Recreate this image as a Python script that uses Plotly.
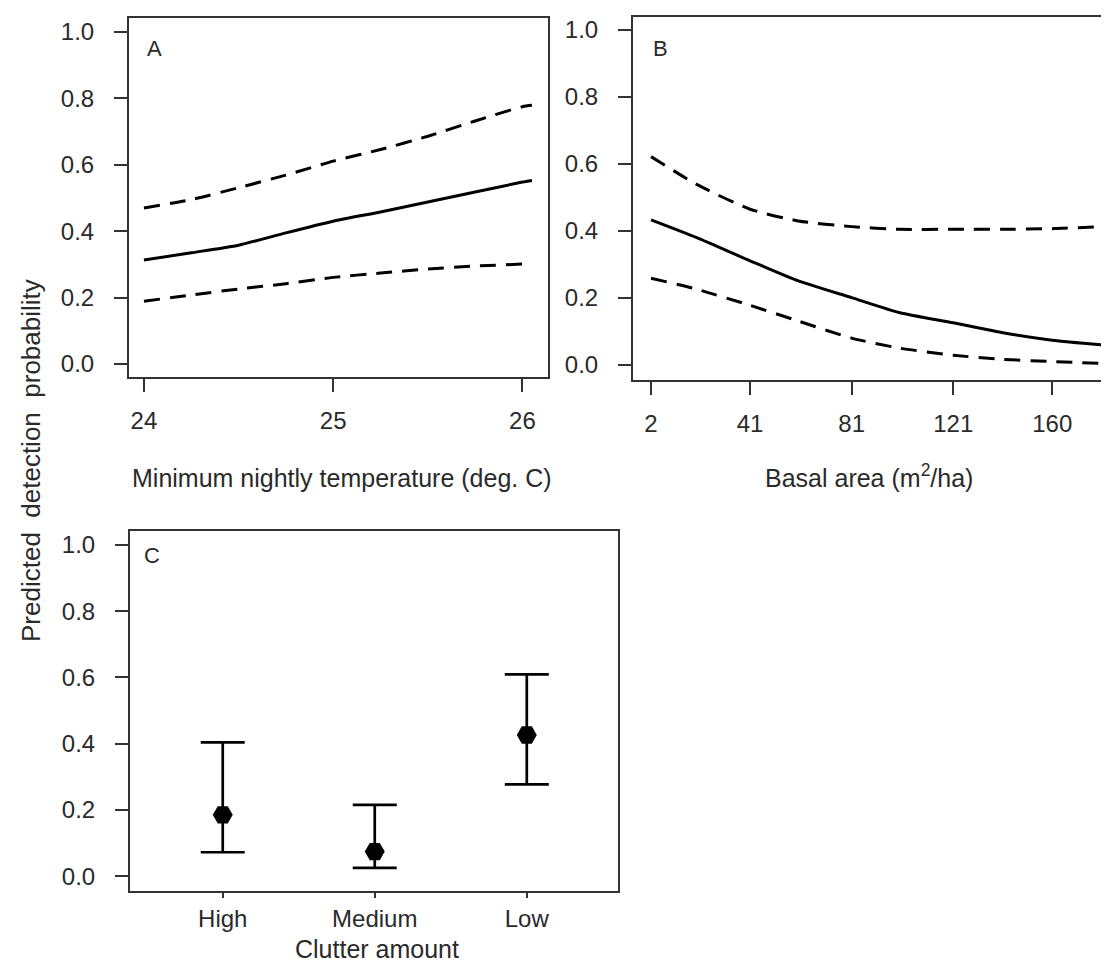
import plotly.graph_objects as go

# ---------------- data ----------------
temp_x = [24, 24.25, 24.5, 24.75, 25, 25.25, 25.5, 25.75, 26, 26.05]
temp_fit = [0.313, 0.335, 0.358, 0.395, 0.430, 0.458, 0.488, 0.518, 0.548, 0.553]
temp_upper = [0.470, 0.495, 0.531, 0.569, 0.611, 0.646, 0.686, 0.732, 0.775, 0.779]
temp_lower = [0.189, 0.208, 0.226, 0.242, 0.261, 0.274, 0.286, 0.295, 0.301, 0.302]

basal_x = [2, 20, 41, 60, 81, 100, 121, 140, 160, 181]
basal_fit = [0.433, 0.380, 0.311, 0.251, 0.201, 0.156, 0.126, 0.097, 0.074, 0.059]
basal_upper = [0.622, 0.539, 0.465, 0.430, 0.413, 0.405, 0.405, 0.405, 0.407, 0.413]
basal_lower = [0.259, 0.226, 0.178, 0.131, 0.080, 0.050, 0.029, 0.017, 0.010, 0.004]

clutter_cats = ["High", "Medium", "Low"]
clutter_est = [0.185, 0.074, 0.426]
clutter_upper = [0.404, 0.215, 0.609]
clutter_lower = [0.072, 0.025, 0.277]

temp_ticks = [24, 25, 26]
basal_tickvals = [2, 41, 81, 121, 160]
basal_ticktext = ["2", "41", "81", "121", "160"]
y_ticks = [0.0, 0.2, 0.4, 0.6, 0.8, 1.0]
y_ticktext = ["0.0", "0.2", "0.4", "0.6", "0.8", "1.0"]

# ---------------- figure ----------------
W, H = 1109, 962
FONT = "Liberation Sans, Arial, sans-serif"
TXT = "#2a2a2a"
FRAME = "#333333"

def px_x(p):
    return p / W

def px_y(p):
    return 1 - p / H

fig = go.Figure()

DASH = "16px,10px"
for xs, ys, dash, ax in [
    (temp_x, temp_upper, DASH, ("x", "y")),
    (temp_x, temp_fit, "solid", ("x", "y")),
    (temp_x, temp_lower, DASH, ("x", "y")),
    (basal_x, basal_upper, DASH, ("x2", "y2")),
    (basal_x, basal_fit, "solid", ("x2", "y2")),
    (basal_x, basal_lower, DASH, ("x2", "y2")),
]:
    fig.add_trace(go.Scatter(
        x=xs, y=ys, mode="lines",
        line=dict(color="black", width=3, dash=dash, shape="spline", smoothing=0.6),
        xaxis=ax[0], yaxis=ax[1], showlegend=False, hoverinfo="skip"))

fig.add_trace(go.Scatter(
    x=clutter_cats, y=clutter_est, mode="markers",
    marker=dict(symbol="hexagon2", size=20, color="black"),
    error_y=dict(type="data", symmetric=False,
                 array=[u - e for u, e in zip(clutter_upper, clutter_est)],
                 arrayminus=[e - l for e, l in zip(clutter_est, clutter_lower)],
                 color="black", thickness=2.7, width=22),
    xaxis="x3", yaxis="y3", showlegend=False))

tickfont = dict(family=FONT, size=24, color=TXT)

def yaxis(domain, anchor, rng, mirror=True):
    return dict(domain=domain, anchor=anchor, range=rng, tickvals=y_ticks, ticktext=y_ticktext,
                ticks="outside", ticklen=13, tickwidth=2, tickcolor=FRAME,
                showline=True, linecolor=FRAME, linewidth=2, mirror=mirror,
                showgrid=False, zeroline=False, tickfont=tickfont, ticklabelstandoff=15,
                automargin=False)

def xaxis(domain, anchor, rng, ticklen=13, mirror=True, standoff=8, **kw):
    d = dict(domain=domain, anchor=anchor, range=rng,
             ticks="outside", ticklen=ticklen, tickwidth=2, tickcolor=FRAME,
             showline=True, linecolor=FRAME, linewidth=2, mirror=mirror,
             showgrid=False, zeroline=False, tickfont=tickfont, ticklabelstandoff=standoff,
             automargin=False)
    d.update(kw)
    return d

# panel positions (pixels)
A = dict(l=121, r=540, t=10, b=369)
B = dict(l=625, r=1109, t=9, b=372)
C = dict(l=122, r=610, t=523, b=883)

def dom(p):
    return [px_x(p["l"]), px_x(p["r"])], [px_y(p["b"]), px_y(p["t"])]

ax_d, ay_d = dom(A)
bx_d, by_d = dom(B)
cx_d, cy_d = dom(C)

fig.update_layout(
    width=W, height=H,
    margin=dict(l=0, r=0, t=0, b=0),
    paper_bgcolor="white", plot_bgcolor="white",
    xaxis=xaxis(ax_d, "y", [23.921, 26.135], tickvals=temp_ticks, ticktext=["24", "25", "26"]),
    yaxis=yaxis(ay_d, "x", [-0.039, 1.042]),
    xaxis2=xaxis(bx_d, "y2", [-5.1, 185.5], tickvals=basal_tickvals, ticktext=basal_ticktext),
    yaxis2=yaxis(by_d, "x2", [-0.045, 1.039], mirror=False),
    xaxis3=xaxis(cx_d, "y3", [-0.61, 2.6], ticklen=5, type="category", standoff=0),
    yaxis3=yaxis(cy_d, "x3", [-0.045, 1.042]),
)

annots = [
    dict(text="A", x=px_x(137), y=px_y(40)),
    dict(text="B", x=px_x(643), y=px_y(40)),
    dict(text="C", x=px_x(134), y=px_y(547)),
]
for a in annots:
    fig.add_annotation(xref="paper", yref="paper", x=a["x"], y=a["y"], text=a["text"],
                       showarrow=False, xanchor="left", yanchor="middle",
                       font=dict(family=FONT, size=22, color=TXT))

titles = [
    ("Minimum nightly temperature (deg. C)", 334, 470, 0, 25),
    ("Basal area (m<sup>2</sup>/ha)", 861, 468, 0, 25),
    ("Clutter amount", 369, 941, 0, 25),
    ("Predicted  detection  probability", 23, 453, -90, 26),
]
for t, x, y, ang, sz in titles:
    fig.add_annotation(xref="paper", yref="paper", x=px_x(x), y=px_y(y), text=t,
                       showarrow=False, xanchor="center", yanchor="middle", textangle=ang,
                       font=dict(family=FONT, size=sz, color=TXT))

fig.write_html("out.html")
